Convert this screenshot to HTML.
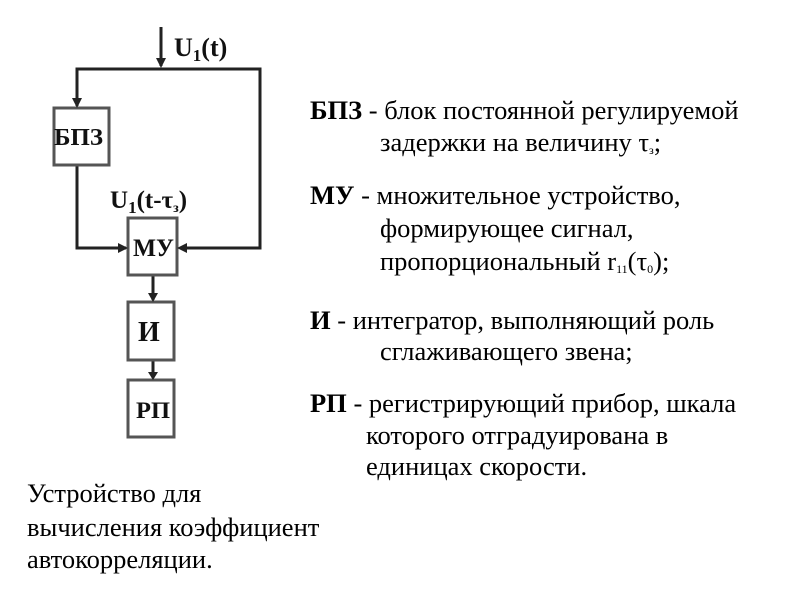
<!DOCTYPE html>
<html><head><meta charset="utf-8"><style>
html,body{margin:0;padding:0;background:#fff;}
body{width:800px;height:600px;position:relative;overflow:hidden;font-family:"Liberation Serif","Noto Serif CJK SC",serif;color:#000;}
.t{position:absolute;font-size:26.5px;white-space:nowrap;line-height:1;}
sub{font-size:12px;vertical-align:-3px;}
</style></head><body>
<svg width="800" height="600" style="position:absolute;left:0;top:0" xmlns="http://www.w3.org/2000/svg">
<g stroke="#222" stroke-width="3" fill="none">
<line x1="161" y1="27" x2="161" y2="66"/>
<polyline points="77,106 77,69 260,69 260,248 180,248"/>
<polyline points="77,165 77,248 126,248"/>
<line x1="153" y1="275" x2="153" y2="300"/>
<line x1="153" y1="360" x2="153" y2="378"/>
<rect x="54" y="108" width="55" height="57" stroke="#555"/>
<rect x="128" y="218" width="49" height="57" stroke="#555"/>
<rect x="128" y="302" width="46" height="58" stroke="#555"/>
<rect x="128" y="380" width="46" height="57" stroke="#555"/>
</g>
<g fill="#222">
<polygon points="156,58 166,58 161,68"/>
<polygon points="72,98 82,98 77,108"/>
<polygon points="118,243 118,253 128,248"/>
<polygon points="187,243 187,253 177,248"/>
<polygon points="148,293 158,293 153,302"/>
<polygon points="148,372 158,372 153,380"/>
</g>
<g font-family="Liberation Serif,serif" font-weight="bold" fill="#111">
<text x="54" y="145" font-size="24" textLength="49" lengthAdjust="spacingAndGlyphs">БПЗ</text>
<text x="133" y="256" font-size="25" textLength="41" lengthAdjust="spacingAndGlyphs">МУ</text>
<text x="138" y="341" font-size="28">И</text>
<text x="136" y="418" font-size="23" textLength="34" lengthAdjust="spacingAndGlyphs">РП</text>
<text x="174" y="56" font-size="26">U<tspan font-size="17" dy="5">1</tspan><tspan dy="-5">(t)</tspan></text>
<text x="110" y="208" font-size="25">U<tspan font-size="17" dy="5">1</tspan><tspan dy="-5">(t-τ</tspan><tspan font-size="14" dy="4">з</tspan><tspan dy="-4">)</tspan></text>
</g>
</svg>
<div class="t" style="left:310px;top:97px"><b>БПЗ</b> - блок постоянной регулируемой</div>
<div class="t" style="left:380px;top:129px">задержки на величину τ<sub>з</sub>;</div>
<div class="t" style="left:310px;top:182px"><b>МУ</b> - множительное устройство,</div>
<div class="t" style="left:380px;top:215px">формирующее сигнал,</div>
<div class="t" style="left:380px;top:248px">пропорциональный r<sub>11</sub>(τ<sub>0</sub>);</div>
<div class="t" style="left:310px;top:307px"><b>И</b> - интегратор, выполняющий роль</div>
<div class="t" style="left:380px;top:338px">сглаживающего звена;</div>
<div class="t" style="left:310px;top:390px"><b>РП</b> - регистрирующий прибор, шкала</div>
<div class="t" style="left:366px;top:422px">которого отградуирована в</div>
<div class="t" style="left:366px;top:453px">единицах скорости.</div>
<div class="t" style="left:27px;top:480px">Устройство для</div>
<div class="t" style="left:27px;top:514px">вычисления коэффициент</div>
<div class="t" style="left:27px;top:546px">автокорреляции.</div>
</body></html>
